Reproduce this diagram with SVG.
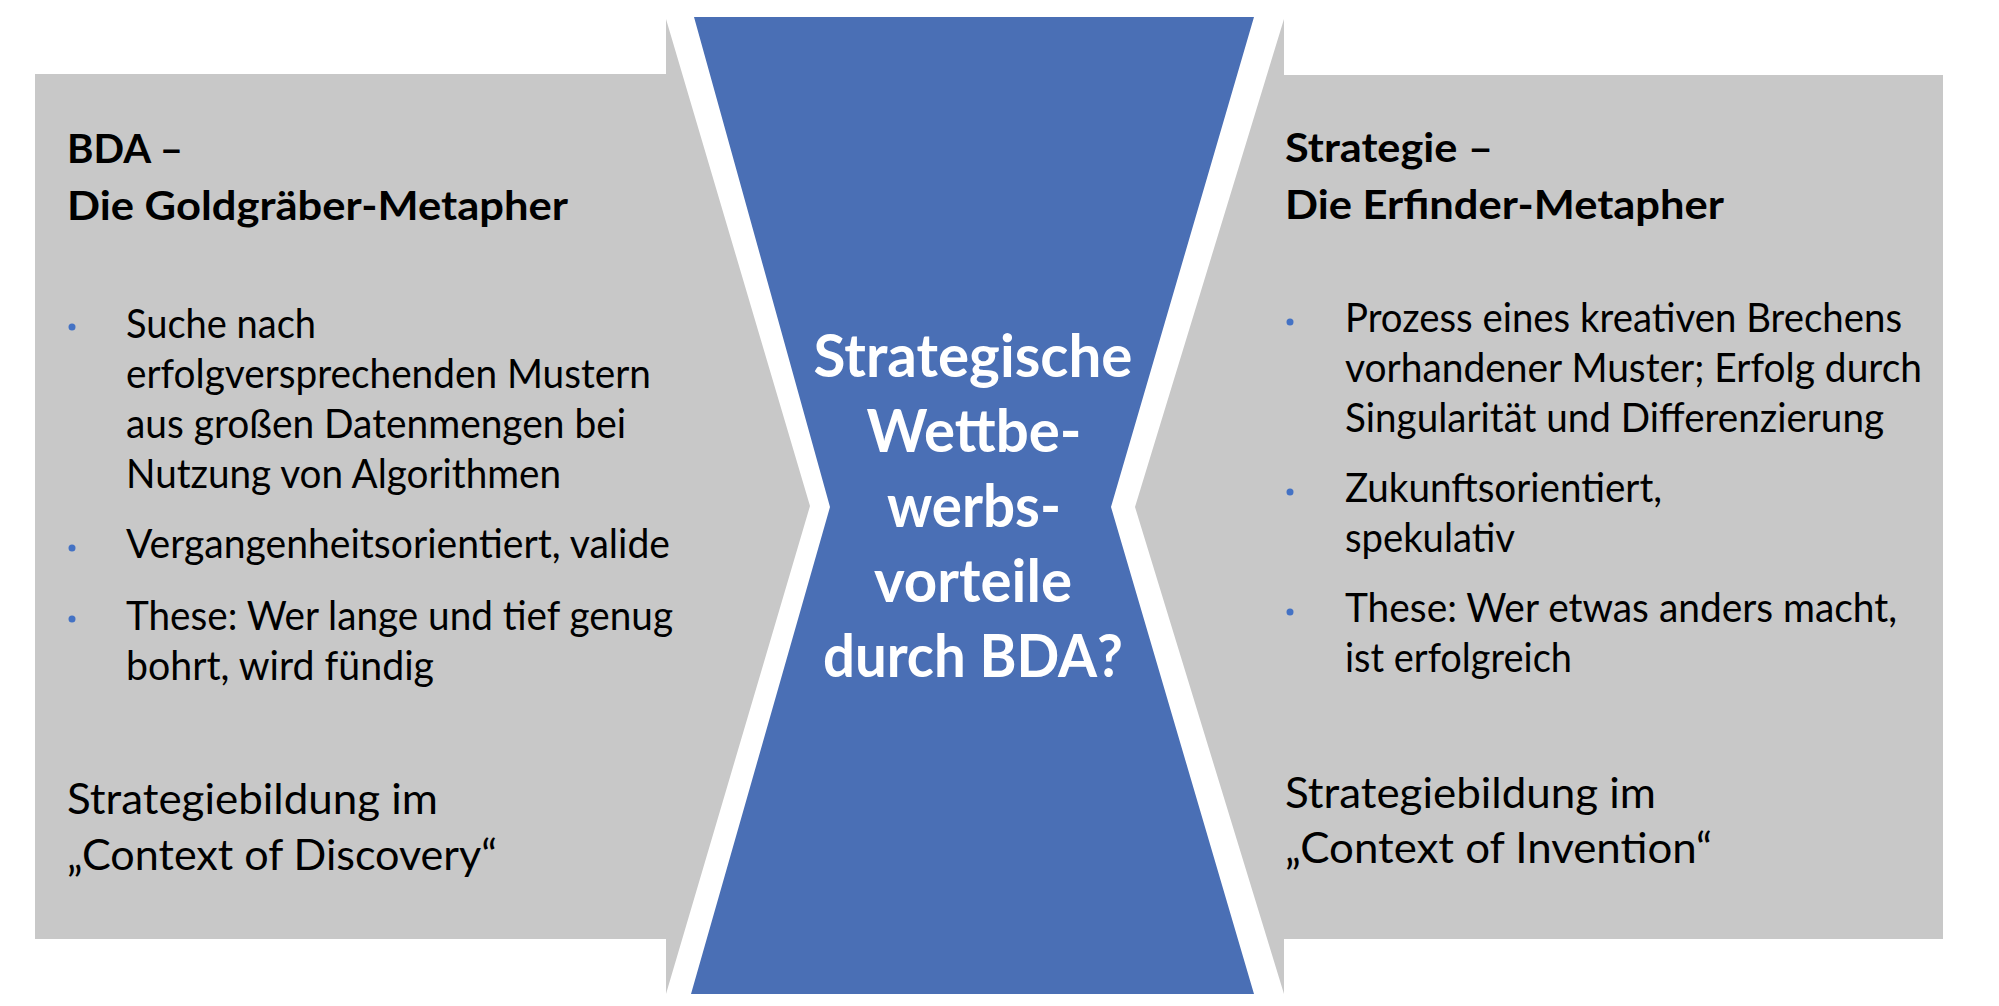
<svg xmlns="http://www.w3.org/2000/svg" width="1999" height="1006" viewBox="0 0 1999 1006">
<style>
.grey{fill:#C8C8C8}
.blue{fill:#4A6FB5}
.t{font-family:Lato,"Liberation Sans",sans-serif;fill:#000}
.h{font-size:40px;font-weight:bold}
.b{font-size:40px}
.f{font-size:42px}
.c{font-family:Lato,"Liberation Sans",sans-serif;font-size:60px;font-weight:bold;fill:#fff;text-anchor:middle}
.dot{fill:#4472C4}
</style>
<rect width="1999" height="1006" fill="#fff"/>
<g id="left">
<polygon class="grey" points="35,74 666,74 666,19 810,506 666,994 666,939 35,939"/>
<text class="t h" x="67" y="163" textLength="116" lengthAdjust="spacingAndGlyphs">BDA –</text>
<text class="t h" x="67" y="220" textLength="501" lengthAdjust="spacingAndGlyphs">Die Goldgräber-Metapher</text>
<circle class="dot" cx="72" cy="327" r="3.5"/>
<circle class="dot" cx="72" cy="548" r="3.5"/>
<circle class="dot" cx="72" cy="619" r="3.5"/>
<text class="t b" x="126" y="338" textLength="190" lengthAdjust="spacingAndGlyphs">Suche nach</text>
<text class="t b" x="126" y="388" textLength="525" lengthAdjust="spacingAndGlyphs">erfolgversprechenden Mustern</text>
<text class="t b" x="126" y="438" textLength="500" lengthAdjust="spacingAndGlyphs">aus großen Datenmengen bei</text>
<text class="t b" x="126" y="488" textLength="435" lengthAdjust="spacingAndGlyphs">Nutzung von Algorithmen</text>
<text class="t b" x="126" y="558" textLength="544" lengthAdjust="spacingAndGlyphs">Vergangenheitsorientiert, valide</text>
<text class="t b" x="126" y="630" textLength="547" lengthAdjust="spacingAndGlyphs">These: Wer lange und tief genug</text>
<text class="t b" x="126" y="680" textLength="308" lengthAdjust="spacingAndGlyphs">bohrt, wird fündig</text>
<text class="t f" x="67" y="814" textLength="371" lengthAdjust="spacingAndGlyphs">Strategiebildung im</text>
<text class="t f" x="67" y="870" textLength="430" lengthAdjust="spacingAndGlyphs">„Context of Discovery“</text>
</g>
<g id="center">
<polygon class="blue" points="694,17 1254,17 1111,507 1254,994 691,994 830,507"/>
<text class="c" x="973" y="377" textLength="319" lengthAdjust="spacingAndGlyphs">Strategische</text>
<text class="c" x="974" y="452" textLength="215" lengthAdjust="spacingAndGlyphs">Wettbe-</text>
<text class="c" x="974" y="527" textLength="174" lengthAdjust="spacingAndGlyphs">werbs-</text>
<text class="c" x="973" y="602" textLength="198" lengthAdjust="spacingAndGlyphs">vorteile</text>
<text class="c" x="973" y="677" textLength="300" lengthAdjust="spacingAndGlyphs">durch BDA?</text>
</g>
<g id="right">
<polygon class="grey" points="1284,19 1284,75 1943,75 1943,939 1284,939 1284,994 1135,507"/>
<text class="t h" x="1285" y="162" textLength="208" lengthAdjust="spacingAndGlyphs">Strategie –</text>
<text class="t h" x="1285" y="219" textLength="439" lengthAdjust="spacingAndGlyphs">Die Erfinder-Metapher</text>
<circle class="dot" cx="1290" cy="322" r="3.5"/>
<circle class="dot" cx="1290" cy="492" r="3.5"/>
<circle class="dot" cx="1290" cy="612" r="3.5"/>
<text class="t b" x="1345" y="332" textLength="557" lengthAdjust="spacingAndGlyphs">Prozess eines kreativen Brechens</text>
<text class="t b" x="1345" y="382" textLength="577" lengthAdjust="spacingAndGlyphs">vorhandener Muster; Erfolg durch</text>
<text class="t b" x="1345" y="432" textLength="539" lengthAdjust="spacingAndGlyphs">Singularität und Differenzierung</text>
<text class="t b" x="1345" y="502" textLength="317" lengthAdjust="spacingAndGlyphs">Zukunftsorientiert,</text>
<text class="t b" x="1345" y="552" textLength="170" lengthAdjust="spacingAndGlyphs">spekulativ</text>
<text class="t b" x="1345" y="622" textLength="552" lengthAdjust="spacingAndGlyphs">These: Wer etwas anders macht,</text>
<text class="t b" x="1345" y="672" textLength="227" lengthAdjust="spacingAndGlyphs">ist erfolgreich</text>
<text class="t f" x="1285" y="808" textLength="371" lengthAdjust="spacingAndGlyphs">Strategiebildung im</text>
<text class="t f" x="1285" y="863" textLength="427" lengthAdjust="spacingAndGlyphs">„Context of Invention“</text>
</g>
<g id="connectors"/>
</svg>
